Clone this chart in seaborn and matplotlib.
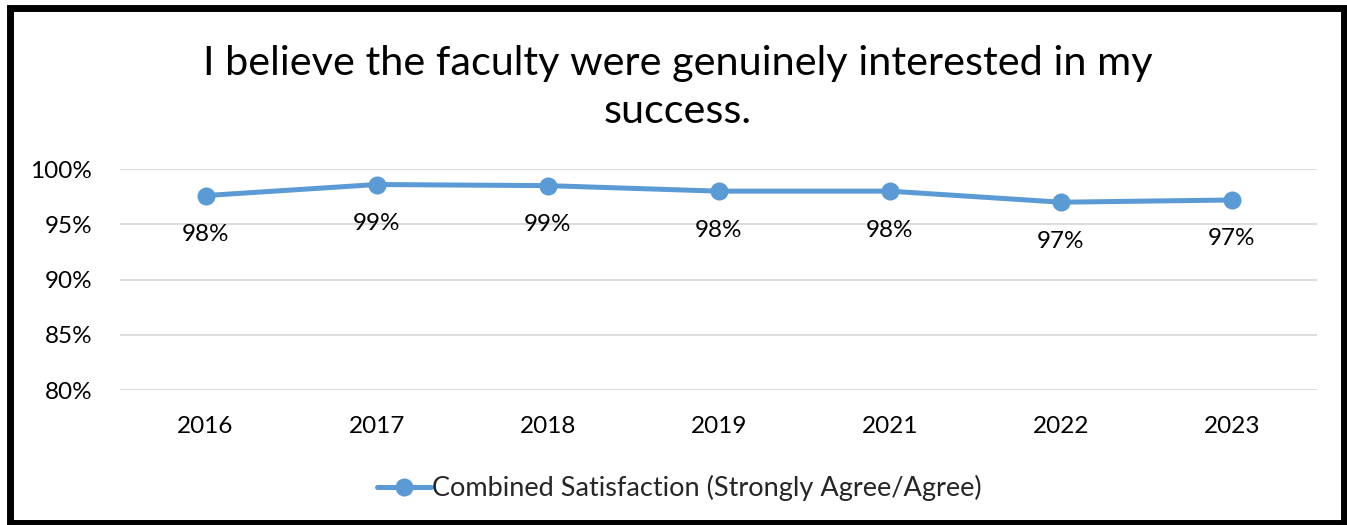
import matplotlib
matplotlib.use('Agg')
import matplotlib.pyplot as plt
import seaborn as sns
import pandas as pd
from matplotlib.patches import Rectangle
from matplotlib.ticker import PercentFormatter

# chart data
years = ['2016', '2017', '2018', '2019', '2021', '2022', '2023']
satisfaction = [0.976, 0.986, 0.985, 0.980, 0.980, 0.970, 0.972]
point_labels = ['98%', '99%', '99%', '98%', '98%', '97%', '97%']
series_name = 'Combined Satisfaction (Strongly Agree/Agree)'
title = 'I believe the faculty were genuinely interested in my\nsuccess.'

df = pd.DataFrame({'year': years, 'value': satisfaction})

sns.set_style('white')
plt.rcParams['font.family'] = ['Lato', 'DejaVu Sans']

blue = '#5B9BD5'
fs = 17.5
fig = plt.figure(figsize=(13.47, 5.25), dpi=100)
ax = fig.add_axes([0.0891, 0.257, 0.8889, 0.421])

sns.lineplot(data=df, x='year', y='value', ax=ax, color=blue, linewidth=3.6,
             marker='o', markersize=13, markeredgewidth=0, label=series_name,
             sort=False)

# data labels under each point
for i, (v, lab) in enumerate(zip(satisfaction, point_labels)):
    ax.annotate(lab, (i, v), xytext=(0, -28), textcoords='offset points',
                ha='center', va='center', fontsize=fs, color='#000000')

ax.set_ylim(0.80, 1.00)
ax.set_xlim(-0.5, len(years) - 0.5)
ax.set_yticks([0.80, 0.85, 0.90, 0.95, 1.00])
ax.yaxis.set_major_formatter(PercentFormatter(1.0, decimals=0))
ax.grid(axis='y', color='#D9D9D9', linewidth=1.3)
ax.set_axisbelow(True)
for s in ax.spines.values():
    s.set_visible(False)
ax.tick_params(axis='y', length=0, pad=20, labelsize=fs, labelcolor='#000000')
ax.tick_params(axis='x', length=0, pad=19, labelsize=fs, labelcolor='#000000')
ax.set_xlabel('')
ax.set_ylabel('')

ax.legend(loc='center', bbox_to_anchor=(0.467, -0.445), frameon=False,
          fontsize=19.5, handlelength=2.0, handletextpad=0.05)

fig.text(0.503, 0.833, title, ha='center', va='center', fontsize=29.8,
         linespacing=1.38, color='#000000')

# black frame around the whole chart
fig.patches.append(Rectangle((0.0074, 0.004), 0.9904, 0.980, transform=fig.transFigure,
                             fill=False, edgecolor='black', linewidth=5))

fig.savefig('out.png', dpi=100)
